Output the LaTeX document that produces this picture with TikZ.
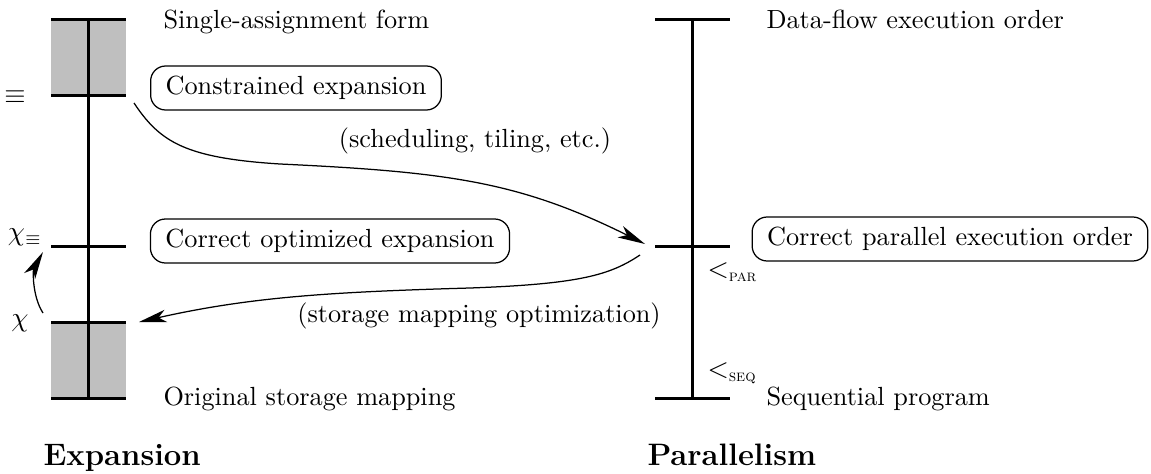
\documentclass[tikz,border=0pt]{standalone}
\usetikzlibrary{arrows.meta}
\definecolor{blockgray}{RGB}{191,191,191}
\begin{document}
\begin{tikzpicture}[x=0.4pt,y=-0.4pt,
  txt/.style={font=\fontsize{10.5}{12}\selectfont, inner sep=0pt},
  hdr/.style={font=\fontsize{12.4}{14}\selectfont\bfseries, inner sep=0pt, anchor=base west},
  rbox/.style={draw, line width=0.5pt, rounded corners=6pt, font=\fontsize{10.5}{12}\selectfont,
     inner xsep=6pt, minimum height=17.6pt},
  bar/.style={line width=1.2pt},
  conn/.style={line width=0.5pt, -{Stealth[length=11pt,width=5pt,inset=3pt]}}]
\useasboundingbox (0,0) rectangle (1151,473);
% shaded storage blocks
\fill[blockgray] (51,19) rectangle (126,95);
\fill[blockgray] (51,322) rectangle (126,398);
% left axis
\coordinate (L0) at (88,19);
\coordinate (L3) at (88,398);
\draw[bar] (L0) -- (L3);
\draw[bar] (51,19) -- (126,19);
\draw[bar] (51,95) -- (126,95);
\draw[bar] (51,246) -- (126,246);
\draw[bar] (51,322) -- (126,322);
\draw[bar] (51,398) -- (126,398);
% right axis
\coordinate (R0) at (692,19);
\coordinate (R2) at (692,398);
\draw[bar] (R0) -- (R2);
\draw[bar] (655,19) -- (730,19);
\draw[bar] (655,246) -- (730,246);
\draw[bar] (655,398) -- (730,398);
% labels
\node[txt, anchor=base west] (saf) at (163,28) {Single-assignment form};
\node[txt, anchor=base west] (osm) at (163,405) {Original storage mapping};
\node[txt, anchor=base west] (dfo) at (766,28) {Data-flow execution order};
\node[txt, anchor=base west] (sqp) at (766,405) {Sequential program};
\node[rbox] (ce) at (296,88) {Constrained expansion};
\node[rbox] (coe) at (330,241) {Correct optimized expansion};
\node[rbox] (cpo) at (950,239) {Correct parallel execution order};
\node[txt] (sch) at (475,141) {(scheduling, tiling, etc.)};
\node[txt] (smo) at (479,316) {(storage mapping optimization)};
\node[txt] (eq) at (15,97) {$\equiv$};
\node[txt] (chieq) at (25,237) {$\chi_\equiv$};
\node[txt] (chi) at (20,323) {$\chi$};
\node[txt, anchor=west] (par) at (707,272) {$<_{\mbox{\fontsize{6.5}{7}\selectfont\textsc{par}}}$};
\node[txt, anchor=west] (seq) at (707,373) {$<_{\mbox{\fontsize{6.5}{7}\selectfont\textsc{seq}}}$};
\node[hdr] (exp) at (43,465) {Expansion};
\node[hdr] (par2) at (647,465) {Parallelism};
% connectors
\coordinate (u0) at (134,103);
\coordinate (u1) at (645,244);
\coordinate (d0) at (640,255);
\coordinate (d1) at (139,322);
\coordinate (c0) at (43,313);
\coordinate (c1) at (43,252);
\draw[conn] (u0) .. controls (160,142) and (185,158) .. (280,164)
   .. controls (450,172) and (520,182) .. (u1);
\draw[conn] (d0) .. controls (610,275) and (580,284) .. (470,288)
   .. controls (330,292) and (250,297) .. (d1);
\draw[conn] (c0) .. controls (32,296) and (33,270) .. (c1);
\end{tikzpicture}
\end{document}
